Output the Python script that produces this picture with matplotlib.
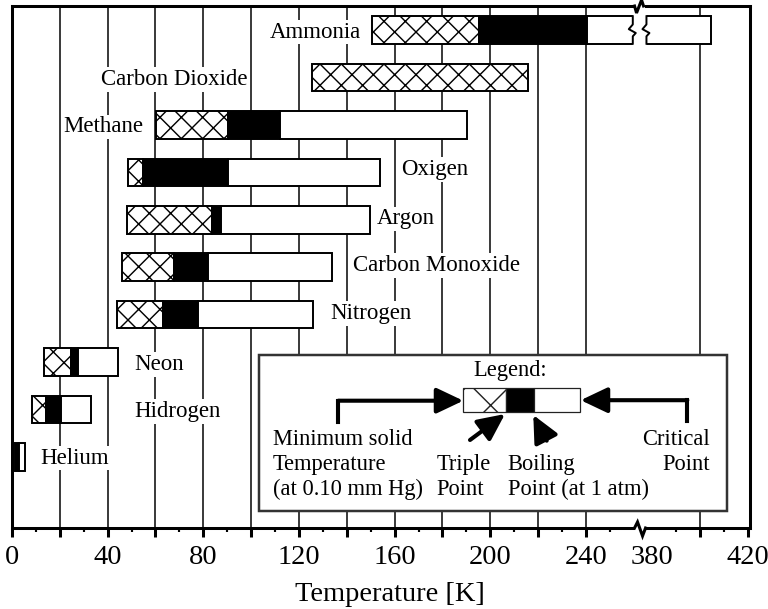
import numpy as np
import matplotlib
matplotlib.use("Agg")
import matplotlib.pyplot as plt
from matplotlib.patches import Rectangle, Polygon, FancyArrowPatch
from matplotlib.lines import Line2D
from matplotlib.transforms import IdentityTransform
from matplotlib.ticker import FixedLocator, FixedFormatter

# ---------------- data (temperatures in K) ----------------
gases = ["Helium", "Hidrogen", "Neon", "Nitrogen", "Carbon Monoxide",
         "Argon", "Oxigen", "Methane", "Carbon Dioxide", "Ammonia"]
t_min_solid = [1.2, 8.5, 13.5, 43.8, 45.9, 48.0, 48.4, 60.2, 125.3, 150.4]
t_triple    = [1.2, 14.2, 24.7, 63.3, 67.7, 83.5, 54.6, 90.2, 215.8, 195.2]
t_boiling   = [3.1, 20.5, 27.5, 77.6, 81.8, 87.2, 90.3, 112.0, 215.8, 240.3]
t_critical  = [5.4, 33.0, 44.4, 126.0, 133.7, 149.7, 153.8, 190.1, 215.8, 404.9]

tick_values = [0, 40, 80, 120, 160, 200, 240, 380, 420]
tick_labels = ["0", "40", "80", "120", "160", "200", "240", "380", "420"]
x_label = "Temperature [K]"

# ---------------- layout constants ----------------
label_x = [11.7, 51.0, 51.0, 132.9, 142.5, 152.6, 162.8, 55.1, 98.3, 145.8]
label_ha = ["left"] * 7 + ["right"] * 3
label_dy_px = [1, 0, 0, 3, 4, 3, 5, 0, 0, 0]

plt.rcParams["font.family"] = ["Liberation Serif", "DejaVu Serif"]
plt.rcParams["hatch.linewidth"] = 0.8

DPI = 128
W, H = 768, 609
fig = plt.figure(figsize=(W / DPI, H / DPI), dpi=DPI)
AX_L, AX_R, AX_T, AX_B = 12, 750, 6, 528
ax = fig.add_axes([AX_L / W, 1 - AX_B / H, (AX_R - AX_L) / W, (AX_B - AX_T) / H])

# broken x axis via a function scale
BRK_L, BRK_R, EPS = 262.0, 374.5, 1e-3
GAP = BRK_R - BRK_L


def fwd(x):
    x = np.asarray(x, dtype=float)
    return np.where(x <= BRK_L, x,
                    np.where(x >= BRK_R, x - GAP * (1 - EPS),
                             BRK_L + (x - BRK_L) * EPS))


def inv(v):
    v = np.asarray(v, dtype=float)
    lim = BRK_L + GAP * EPS
    return np.where(v <= BRK_L, v,
                    np.where(v >= lim, v + GAP * (1 - EPS),
                             BRK_L + (v - BRK_L) / EPS))


ax.set_xscale("function", functions=(fwd, inv))
ax.set_xlim(0, 421)
ax.set_ylim(-1.495, 9.505)
PX_PER_UNIT = (AX_B - AX_T) / 11.0

# ticks
major_pos = list(range(0, 241, 20)) + [380, 400, 420]
major_lab = [tick_labels[tick_values.index(v)] if v in tick_values else "" for v in major_pos]
minor_pos = list(range(10, 251, 20)) + [390, 410]
ax.xaxis.set_major_locator(FixedLocator(major_pos))
ax.xaxis.set_major_formatter(FixedFormatter(major_lab))
ax.xaxis.set_minor_locator(FixedLocator(minor_pos))
ax.tick_params(axis="x", which="major", direction="out", length=5, width=1.7,
               pad=4.5, labelsize=16, color="black")
ax.tick_params(axis="x", which="minor", direction="out", length=2.3, width=1.2)
ax.set_yticks([])
for t, v in zip(ax.xaxis.get_major_ticks(), major_pos):
    if v == 380:
        t.tick1line.set_visible(False)
for s in ax.spines.values():
    s.set_linewidth(1.7)
    s.set_color("black")

ax.set_xlabel(x_label, fontsize=16)
ax.xaxis.set_label_coords(0.512, -0.104)

# grid lines
grid_pos = list(range(20, 241, 20)) + [400]
for v in grid_pos:
    ax.axvline(v, color="black", lw=0.85, zorder=0.5)

# bars
y = np.arange(len(gases))
h = 0.58
mn, tr, bo, cr = (np.array(a, dtype=float) for a in (t_min_solid, t_triple, t_boiling, t_critical))
m = tr > mn
ax.barh(y[m], (tr - mn)[m], left=mn[m], height=h, color="white",
        edgecolor="black", hatch="xx", lw=1.1, zorder=2)
m = bo > tr
ax.barh(y[m], (bo - tr)[m], left=tr[m], height=h, color="black",
        edgecolor="black", lw=1.1, zorder=2)
m = cr > bo
ax.barh(y[m], (cr - bo)[m], left=bo[m], height=h, color="white",
        edgecolor="black", lw=1.1, zorder=2)

# bar labels
FSL = 12.9
em = FSL * DPI / 72
for i, (name, lx, ha, dy) in enumerate(zip(gases, label_x, label_ha, label_dy_px)):
    yb = i - (0.331 * em - dy) / PX_PER_UNIT
    ax.text(lx, yb, name, ha=ha, va="baseline", fontsize=FSL, zorder=3,
            bbox=dict(boxstyle="square,pad=0.08", fc="white", ec="none"))

ID = IdentityTransform()

# break inside the Ammonia bar
iA = gases.index("Ammonia")
xl = ax.transData.transform((259.6, iA))[0]
xr = ax.transData.transform((377.7, iA))[0]
yt = ax.transData.transform((10, iA + h / 2))[1]
yb_ = ax.transData.transform((10, iA - h / 2))[1]
zz = [(0, 0), (0.30, 0), (0.47, -4), (0.61, 3), (0.73, 0), (1, 0)]


def zig(x0):
    return [(x0 + dx, yt - f * (yt - yb_)) for f, dx in zz]


lz, rz = zig(xl), zig(xr)
poly = [(lz[0][0], yt + 2)] + lz[1:-1] + [(lz[-1][0], yb_ - 2), (rz[-1][0], yb_ - 2)] \
    + rz[-2:0:-1] + [(rz[0][0], yt + 2)]
fig.add_artist(Polygon(poly, closed=True, transform=ID, fc="white", ec="none", zorder=3))
for zpts in (lz, rz):
    fig.add_artist(Line2D([p[0] for p in zpts], [p[1] for p in zpts], transform=ID,
                          color="black", lw=1.1, zorder=4))

# breaks on the top and bottom spines
xb = ax.transData.transform((BRK_L, 0))[0] + 1
ys_top = ax.transAxes.transform((0, 1))[1]
ys_bot = ax.transAxes.transform((0, 0))[1]
for ys, shape in ((ys_top, [(-5, 0), (-3, -7), (2, 6), (4, 0)]),
                  (ys_bot, [(-5, 0), (-2, 6), (3, -8), (6, 0)])):
    fig.add_artist(Rectangle((xb - 4.5, ys - 3), 10, 6, transform=ID, fc="white",
                             ec="none", zorder=3))
    fig.add_artist(Line2D([xb + p[0] for p in shape], [ys + p[1] for p in shape],
                          transform=ID, color="black", lw=1.7, zorder=4,
                          solid_joinstyle="miter"))

# ---------------- legend (figure pixel coordinates) ----------------
def P(x, yy):
    return (x / W, 1 - yy / H)


TF = fig.transFigure
bx0, by0 = P(259.3, 511)
bx1, by1 = P(727, 355)
fig.add_artist(Rectangle((bx0, by0), bx1 - bx0, by1 - by0, transform=TF,
                         fc="white", ec="#333333", lw=1.4, zorder=5))

seg = [(463.3, 506.0, "white", "x"), (506.0, 534.3, "black", None), (534.3, 580.0, "white", None)]
for x0, x1, c, hat in seg:
    (a0, b0), (a1, b1) = P(x0, 412.3), P(x1, 388.3)
    fig.add_artist(Rectangle((a0, b0), a1 - a0, b1 - b0, transform=TF, fc=c,
                             ec="#222222", lw=0.7, hatch=hat, zorder=6))

FS = 12.7
fig.text(*P(510, 376), "Legend:", ha="center", va="baseline", fontsize=FS, zorder=7)
for txt, yy in (("Minimum solid", 445), ("Temperature", 470), ("(at 0.10 mm Hg)", 495)):
    fig.text(*P(272.7, yy), txt, ha="left", va="baseline", fontsize=FS, zorder=7)
for txt, yy in (("Triple", 470), ("Point", 495)):
    fig.text(*P(436.7, yy), txt, ha="left", va="baseline", fontsize=FS, zorder=7)
for txt, yy in (("Boiling", 470), ("Point (at 1 atm)", 495)):
    fig.text(*P(507.7, yy), txt, ha="left", va="baseline", fontsize=FS, zorder=7)
for txt, yy in (("Critical", 445), ("Point", 470)):
    fig.text(*P(710, yy), txt, ha="right", va="baseline", fontsize=FS, zorder=7)

ALW = 2.3
astyle = "-|>,head_length=0.8,head_width=0.38"
for pts in (((338.3, 422), (338.3, 400.7)), ((687.3, 421), (687.3, 400.2))):
    (a0, b0), (a1, b1) = P(*pts[0]), P(*pts[1])
    fig.add_artist(Line2D([a0, a1], [b0, b1], transform=TF, color="black", lw=ALW,
                          solid_capstyle="projecting", zorder=7))
for (p0, p1) in (((338.3, 400.7), (463.3, 400.7)), ((687.3, 400.2), (580.7, 400.2)),
                 ((470, 440), (505, 414)), ((546.7, 440.7), (533.3, 415))):
    fig.add_artist(FancyArrowPatch(P(*p0), P(*p1), transform=TF, arrowstyle=astyle,
                                   mutation_scale=16, lw=ALW, color="black",
                                   shrinkA=0, shrinkB=0, zorder=7))

fig.savefig("out.png", dpi=DPI)
